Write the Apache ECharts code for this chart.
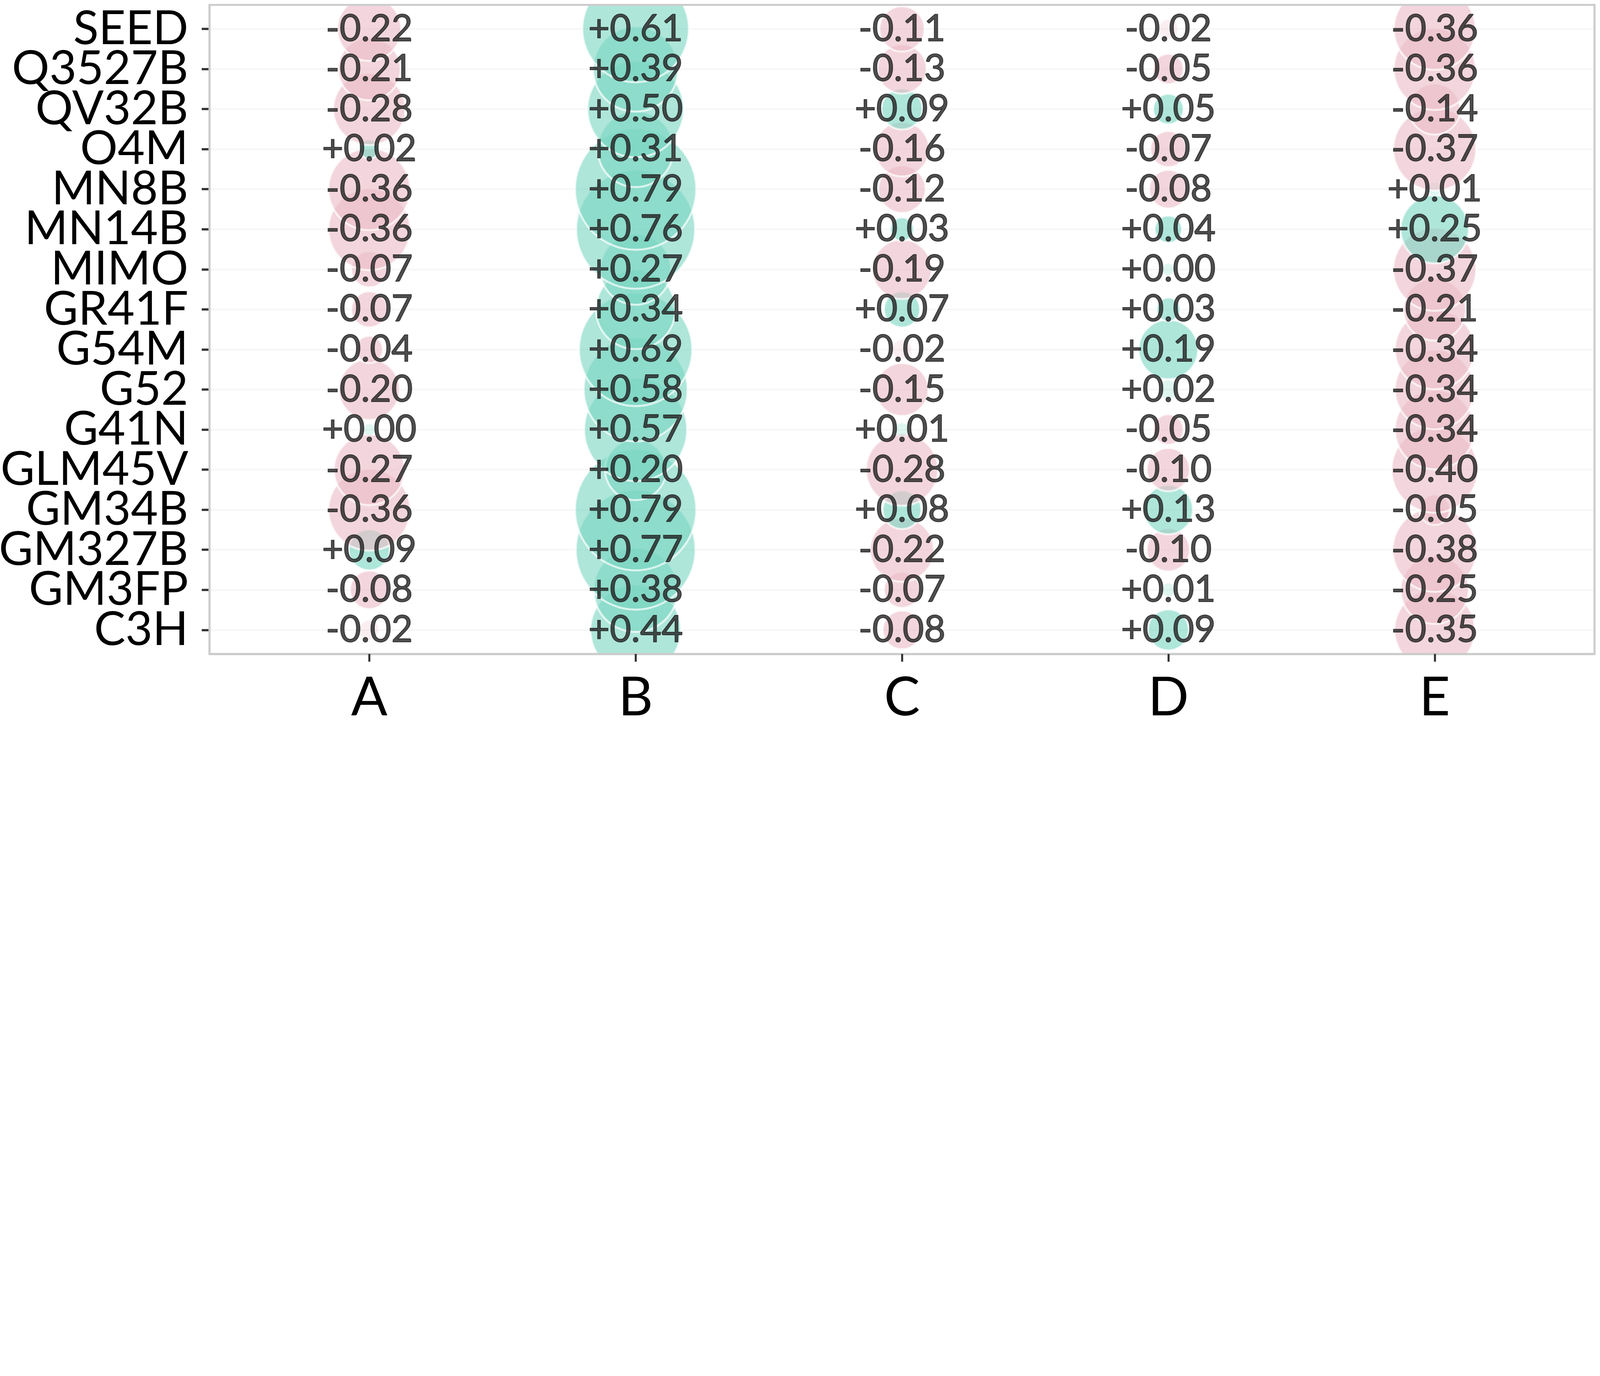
<!DOCTYPE html>
<html>
<head>
<meta charset="utf-8">
<script src="https://cdn.jsdelivr.net/npm/echarts@6/dist/echarts.min.js"></script>
<style>
  html, body { margin: 0; padding: 0; background: #fff; overflow: hidden; }
  #chart { width: 100vw; }
</style>
</head>
<body>
<div id="chart"></div>
<script>
// rows top to bottom
var rows = ['SEED', 'Q3527B', 'QV32B', 'O4M', 'MN8B', 'MN14B', 'MIMO', 'GR41F',
  'G54M', 'G52', 'G41N', 'GLM45V', 'GM34B', 'GM327B', 'GM3FP', 'C3H'];
var cols = ['A', 'B', 'C', 'D', 'E'];

var colA = [-0.22, -0.21, -0.28, 0.02, -0.36, -0.36, -0.07, -0.07, -0.04, -0.20, 0.00, -0.27, -0.36, 0.09, -0.08, -0.02];
var colB = [0.61, 0.39, 0.50, 0.31, 0.79, 0.76, 0.27, 0.34, 0.69, 0.58, 0.57, 0.20, 0.79, 0.77, 0.38, 0.44];
var colC = [-0.11, -0.13, 0.09, -0.16, -0.12, 0.03, -0.19, 0.07, -0.02, -0.15, 0.01, -0.28, 0.08, -0.22, -0.07, -0.08];
var colD = [-0.02, -0.05, 0.05, -0.07, -0.08, 0.04, 0.00, 0.03, 0.19, 0.02, -0.05, -0.10, 0.13, -0.10, 0.01, 0.09];
var colE = [-0.36, -0.36, -0.14, -0.37, 0.01, 0.25, -0.37, -0.21, -0.34, -0.34, -0.34, -0.40, -0.05, -0.38, -0.25, -0.35];

// cells drawn faded in the original
var fadedCells = [['A', 'G41N'], ['A', 'C3H'], ['C', 'G54M'], ['C', 'G41N'],
  ['D', 'SEED'], ['D', 'MIMO'], ['D', 'G52'], ['D', 'GM3FP'], ['E', 'MN8B']];

var allCols = [colA, colB, colC, colD, colE];
var FONT = 'Lato';
var PAD = 0.6; // discrete axis expansion

// sizes below are measured on a 7860x3522 picture, scale to the real window
var dom = document.getElementById('chart');
var k = dom.clientWidth / 7860;
var H = Math.round(3522 * k);
dom.style.height = H + 'px';
function px(v) { return v * k; }

var panel = { left: px(1029), top: px(24), width: px(6804), height: px(3188), border: px(10) };

function isFaded(c, r) {
  for (var i = 0; i < fadedCells.length; i++) {
    if (fadedCells[i][0] === cols[c] && fadedCells[i][1] === rows[r]) return true;
  }
  return false;
}

// bottom row first so upper rows end up on top
var points = [];
for (var r = rows.length - 1; r >= 0; r--) {
  for (var c = 0; c < cols.length; c++) {
    var v = allCols[c][r];
    var a = isFaded(c, r) ? 0.3 : 0.75;
    var rgb = v >= 0 ? '120,214,193' : '235,186,199';
    points.push({
      value: [c, r, v],
      itemStyle: {
        color: 'rgba(' + rgb + ',' + a + ')',
        borderColor: 'rgba(255,255,255,' + (a + 0.1) + ')'
      }
    });
  }
}

// tick positions, with the two panel edges first/last so they can be dropped
var rowTicks = [-PAD].concat(rows.map(function (d, i) { return i; }), [rows.length - 1 + PAD]);
var colTicks = [-PAD].concat(cols.map(function (d, i) { return i; }), [cols.length - 1 + PAD]);

function nameAt(list, v) {
  var i = Math.round(v);
  return Math.abs(v - i) < 1e-6 && list[i] ? list[i] : '';
}

var chart = echarts.init(dom, null, { renderer: 'canvas' });
chart.setOption({
  animation: false,
  backgroundColor: '#fff',
  textStyle: { fontFamily: FONT },
  grid: {
    left: panel.left, top: panel.top, width: panel.width, height: panel.height,
    outerBoundsMode: 'none', containLabel: false, z: 10,
    show: true, borderColor: '#cccccc', borderWidth: panel.border, backgroundColor: 'transparent'
  },
  // white strips outside the panel so big bubbles look clipped by it
  graphic: [
    { type: 'rect', z: 5, silent: true,
      shape: { x: 0, y: 0, width: dom.clientWidth, height: panel.top - panel.border / 2 },
      style: { fill: '#fff' } },
    { type: 'rect', z: 5, silent: true,
      shape: { x: 0, y: panel.top + panel.height + panel.border / 2, width: dom.clientWidth, height: H },
      style: { fill: '#fff' } }
  ],
  xAxis: {
    type: 'value', min: -PAD, max: cols.length - 1 + PAD, z: 10,
    axisLine: { show: true, onZero: false, lineStyle: { color: '#cccccc', width: px(10) } },
    axisTick: { show: true, customValues: colTicks, length: px(38), lineStyle: { color: '#333', width: px(10) } },
    axisLabel: {
      customValues: colTicks, showMinLabel: false, showMaxLabel: false,
      margin: px(85), fontSize: px(264), lineHeight: px(264), color: '#000', fontFamily: FONT,
      formatter: function (v) { return nameAt(cols, v); }
    },
    splitLine: { show: false }
  },
  yAxis: {
    type: 'value', min: -PAD, max: rows.length - 1 + PAD, inverse: true,
    axisLine: { show: true, onZero: false, lineStyle: { color: '#cccccc', width: px(10) } },
    axisTick: { show: true, customValues: rowTicks, length: px(38), lineStyle: { color: '#333', width: px(11) } },
    axisLabel: {
      customValues: rowTicks, showMinLabel: false, showMaxLabel: false,
      margin: px(104), fontSize: px(230), lineHeight: px(170), color: '#000', fontFamily: FONT,
      formatter: function (v) { return nameAt(rows, v); }
    },
    splitLine: { show: true, lineStyle: { color: '#f6f6f6', width: px(8) } }
  },
  series: [{
    type: 'scatter',
    data: points,
    symbol: 'circle',
    symbolSize: function (val) {
      return Math.max(px(670) * Math.sqrt(Math.abs(val[2])), px(58));
    },
    itemStyle: { borderWidth: px(10) },
    label: {
      show: true,
      position: 'inside',
      offset: [0, -px(5)],
      fontSize: px(182),
      color: '#222',
      textBorderColor: '#222',
      textBorderWidth: px(4),
      fontFamily: FONT,
      formatter: function (p) {
        var v = p.value[2];
        return (v >= 0 ? '+' : '-') + Math.abs(v).toFixed(2);
      }
    },
    labelLayout: { hideOverlap: false },
    emphasis: { disabled: true }
  }]
});
</script>
</body>
</html>
